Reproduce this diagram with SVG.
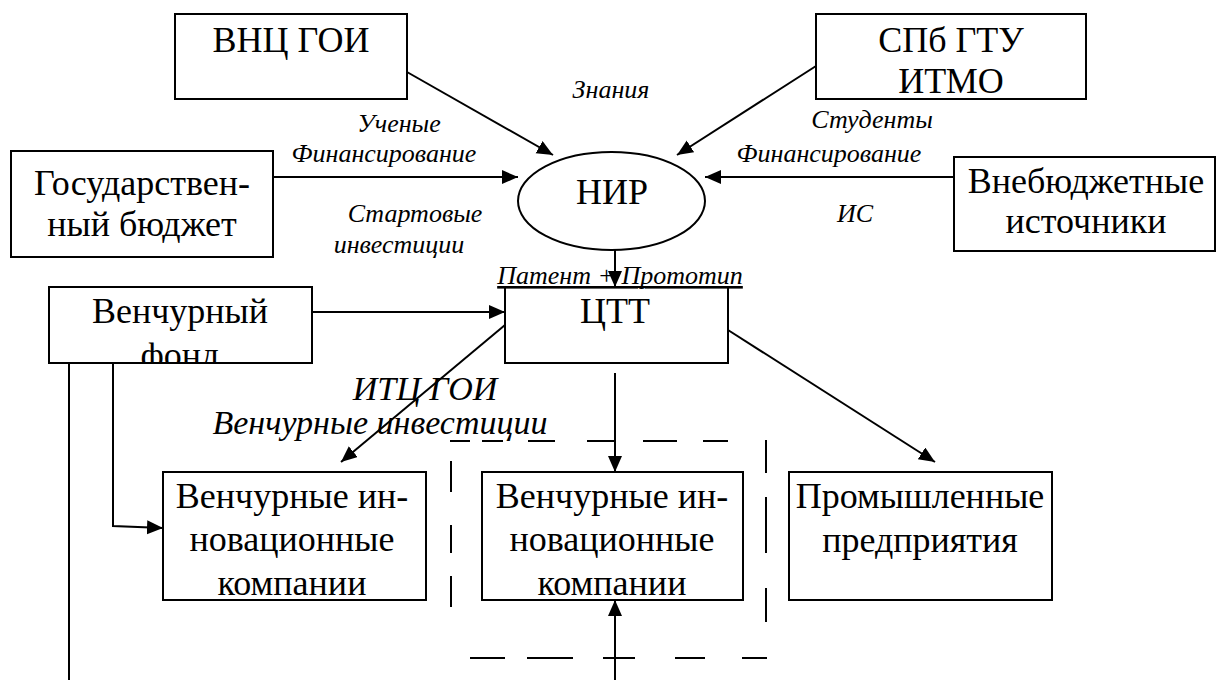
<svg xmlns="http://www.w3.org/2000/svg" width="1217" height="680" viewBox="0 0 1217 680">
<defs>
<marker id="ah" markerUnits="userSpaceOnUse" markerWidth="18" markerHeight="16" refX="16" refY="7" orient="auto">
<path d="M0,0 L16,7 L0,14 z" fill="#000"/>
</marker>
<clipPath id="vfclip"><rect x="49" y="287" width="263" height="76"/></clipPath>
</defs>
<rect width="1217" height="680" fill="#fff"/>

<g id="connectors" fill="none" stroke="#000" stroke-width="2">
<line marker-end="url(#ah)" x1="407" y1="72" x2="553" y2="155"/>
<line marker-end="url(#ah)" x1="816" y1="66" x2="677" y2="155"/>
<line marker-end="url(#ah)" x1="273" y1="177" x2="518" y2="177"/>
<line marker-end="url(#ah)" x1="954" y1="177" x2="705" y2="177"/>
<line marker-end="url(#ah)" x1="615" y1="250" x2="615" y2="287"/>
<line marker-end="url(#ah)" x1="312" y1="312" x2="505" y2="312"/>
<line marker-end="url(#ah)" x1="505" y1="325" x2="341" y2="462"/>
<line marker-end="url(#ah)" x1="615" y1="373" x2="615" y2="472"/>
<line marker-end="url(#ah)" x1="728" y1="330" x2="935" y2="462"/>
<polyline marker-end="url(#ah)" points="113,363 113,526 163,528"/>
<line x1="69" y1="363" x2="69" y2="680"/>
<line marker-end="url(#ah)" x1="615" y1="680" x2="615" y2="600"/>
</g>

<g id="dashed-frame" fill="none" stroke="#000" stroke-width="2">
<path d="M450,441H470 M482,441H503 M528,441H555 M587,441H614 M643,441H677 M703,441H728
M451,461V492 M451,525V553 M451,576V607
M766,440V473 M766,497V553 M766,588V622
M470,658H505 M527,658H573 M603,658H635 M675,658H705 M742,658H767"/>
</g>

<g id="nodes" font-family="Liberation Serif" font-size="36" text-anchor="middle" fill="#000">
<g id="vnc-goi">
<rect fill="#fff" stroke="#000" stroke-width="2" x="175" y="14" width="232" height="85"/>
<text x="291" y="52">ВНЦ ГОИ</text>
</g>
<g id="spb-gtu">
<rect fill="#fff" stroke="#000" stroke-width="2" x="816" y="14" width="270" height="85"/>
<text x="951" y="52">СПб ГТУ</text>
<text x="951" y="93">ИТМО</text>
</g>
<g id="gos-budget">
<rect fill="#fff" stroke="#000" stroke-width="2" x="11" y="151" width="262" height="106"/>
<text x="142" y="195">Государствен-</text>
<text x="142" y="236">ный бюджет</text>
</g>
<g id="vnebudget">
<rect fill="#fff" stroke="#000" stroke-width="2" x="954" y="157" width="261" height="94"/>
<text x="1086" y="193">Внебюджетные</text>
<text x="1086" y="233">источники</text>
</g>
<g id="nir">
<ellipse fill="#fff" stroke="#000" stroke-width="2" cx="611.5" cy="201" rx="93.5" ry="49"/>
<text x="612" y="204">НИР</text>
</g>
<g id="venture-fund">
<rect fill="#fff" stroke="#000" stroke-width="2" x="49" y="287" width="263" height="76"/>
<text x="180" y="323">Венчурный</text>
<text x="180" y="367" clip-path="url(#vfclip)">фонд</text>
</g>
<g id="ctt">
<rect fill="#fff" stroke="#000" stroke-width="2" x="505" y="287" width="223" height="76"/>
<text x="615" y="323">ЦТТ</text>
</g>
<g id="venture-co-1">
<rect fill="#fff" stroke="#000" stroke-width="2" x="163" y="472" width="263" height="128"/>
<text x="292" y="508">Венчурные ин-</text>
<text x="292" y="551">новационные</text>
<text x="292" y="595">компании</text>
</g>
<g id="venture-co-2">
<rect fill="#fff" stroke="#000" stroke-width="2" x="482" y="472" width="261" height="128"/>
<text x="612" y="508">Венчурные ин-</text>
<text x="612" y="551">новационные</text>
<text x="612" y="595">компании</text>
</g>
<g id="industry">
<rect fill="#fff" stroke="#000" stroke-width="2" x="789" y="472" width="263" height="128"/>
<text x="920" y="508">Промышленные</text>
<text x="920" y="552">предприятия</text>
</g>
</g>

<g id="labels" font-family="Liberation Serif" font-style="italic" font-size="26" text-anchor="middle" fill="#000">
<text x="611" y="98">Знания</text>
<text x="399" y="132">Ученые</text>
<text x="384" y="162">Финансирование</text>
<text x="415" y="222">Стартовые</text>
<text x="399" y="253">инвестиции</text>
<text x="872" y="128">Студенты</text>
<text x="829" y="162">Финансирование</text>
<text x="855" y="222">ИС</text>
<text x="620" y="284" text-decoration="underline">Патент + Прототип</text>
<text x="425" y="400" font-size="34">ИТЦ ГОИ</text>
<text x="380" y="434" font-size="34">Венчурные инвестиции</text>
</g>
</svg>
